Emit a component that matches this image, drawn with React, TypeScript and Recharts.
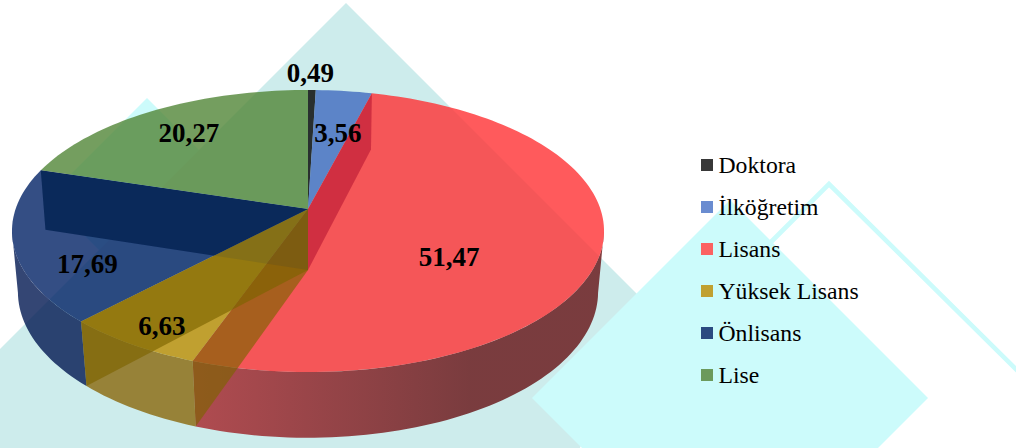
import React from "react";
import { PieChart, Pie, Legend } from "recharts";

const categories = ["Doktora", "İlköğretim", "Lisans", "Yüksek Lisans", "Önlisans", "Lise"];
const shares = [0.49, 3.56, 51.47, 6.63, 17.69, 20.27];
const fills = ["#383838", "#6a8cd0", "#fb6161", "#c0a030", "#2a4a80", "#6c9a5c"];
const faceFills = ["#000000", "#406abf", "#ff3133", "#bd8d01", "#012265", "#518637"];
const wallFills = ["#000000", "#2a4a90", "url(#redWall)", "#89680b", "#011851", "#3a6228"];
const rows = categories.map((name, i) => ({ name, value: shares[i], fill: fills[i] }));

// Perspective of the tilted disc: rim of the top and of the bottom face.
const TOP = { k: 0.156, a: 137.6, b: 292.4, dy: 0 };
const BOTTOM = { k: 0.15, a: 142.6, b: 286.8, dy: 61 };
const SIL_A = 99;
const SIL_B = 261;
const ALPHA = 0.8;

const FONT = "'Liberation Serif', 'Times New Roman', serif";

const pt = (cx: number, cy: number, deg: number, p: typeof TOP, r = 1) => {
  const t = (deg * Math.PI) / 180;
  const u = r * Math.sin(t);
  const v = r * Math.cos(t);
  const w = 1 + p.k * v;
  return [cx + (p.b * u) / w, cy + p.dy - (p.a * v) / w];
};
const toClock = (a: number) => 90 - a;
const arc = (cx: number, cy: number, a: number, b: number, p: typeof TOP) => {
  const out: number[][] = [];
  const n = Math.max(1, Math.ceil(Math.abs(b - a) / 1.5));
  for (let i = 0; i <= n; i++) out.push(pt(cx, cy, a + ((b - a) * i) / n, p));
  return out;
};
const d = (pts: number[][]) =>
  "M" + pts.map((q) => q[0].toFixed(2) + "," + q[1].toFixed(2)).join("L") + "Z";

const radialWall = (cx: number, cy: number, deg: number) =>
  d([[cx, cy], pt(cx, cy, deg, TOP), pt(cx, cy, deg, BOTTOM), [cx, cy + BOTTOM.dy]]);

const OuterWall = (props: any) => {
  const { cx, cy, startAngle, endAngle, name } = props;
  const a = Math.max(toClock(startAngle), SIL_A);
  const b = Math.min(toClock(endAngle), SIL_B);
  if (b <= a) return <g />;
  const i = categories.indexOf(name);
  const pts = [...arc(cx, cy, a, b, TOP), ...arc(cx, cy, b, a, BOTTOM)];
  return <path d={d(pts)} fill={wallFills[i]} fillOpacity={ALPHA} />;
};

const TopFace = (props: any) => {
  const { cx, cy, startAngle, endAngle, name } = props;
  const pts = [[cx, cy], ...arc(cx, cy, toClock(startAngle), toClock(endAngle), TOP)];
  return <path d={d(pts)} fill={faceFills[categories.indexOf(name)]} fillOpacity={ALPHA} />;
};

const InnerWalls = (props: any) => {
  const { cx, cy, startAngle, endAngle, name } = props;
  const a = toClock(startAngle);
  const b = toClock(endAngle);
  if (name === "Lisans") {
    return <path d={radialWall(cx, cy, a)} fill="#c02038" fillOpacity={0.7} />;
  }
  if (name === "Yüksek Lisans") {
    return (
      <g>
        <path d={radialWall(cx, cy, a)} fill="#7d6400" fillOpacity={0.65} />
        <path d={radialWall(cx, cy, b)} fill="#7d6400" fillOpacity={0.65} />
      </g>
    );
  }
  if (name === "Önlisans") {
    const face = [[cx, cy], ...arc(cx, cy, a, b, TOP)];
    return (
      <g>
        <clipPath id="navyFace">
          <path d={d(face)} />
        </clipPath>
        <path d={radialWall(cx, cy, b)} fill="#0a2858" fillOpacity={0.95} clipPath="url(#navyFace)" />
        <path d={radialWall(cx, cy, b)} fill="#0a2858" fillOpacity={0.1} />
      </g>
    );
  }
  return <g />;
};

// radial position of each value label on the disc, then a nudge
const labelSpots = [
  { r: 1.15, dx: -2, dy: -2 },
  { r: 0.6, dx: 7, dy: -1 },
  { r: 0.5, dx: -2, dy: 27 },
  { r: 0.8, dx: -9, dy: 12 },
  { r: 0.75, dx: -2, dy: 28 },
  { r: 0.75, dx: 0, dy: 0 },
];

const ValueLabel = (props: any) => {
  const { cx, cy, midAngle, index } = props;
  const s = labelSpots[index];
  const q = pt(cx, cy, toClock(midAngle), TOP, s.r);
  return (
    <text
      x={q[0] + s.dx}
      y={q[1] + s.dy}
      textAnchor="middle"
      dominantBaseline="central"
      fontFamily={FONT}
      fontWeight="bold"
      fontSize={27}
      fill="#000"
    >
      {shares[index].toFixed(2).replace(".", ",")}
    </text>
  );
};

const LegendList = () => (
  <div style={{ fontFamily: FONT, fontSize: 23.7, color: "#000" }}>
    {rows.map((e) => (
      <div key={e.name} style={{ height: 42, display: "flex", alignItems: "center" }}>
        <span style={{ width: 12, height: 12, background: e.fill, marginRight: 5.5, flex: "none" }} />
        <span style={{ lineHeight: "42px", whiteSpace: "nowrap" }}>{e.name}</span>
      </div>
    ))}
  </div>
);

const pieBase = {
  data: rows,
  dataKey: "value",
  nameKey: "name",
  cx: 308,
  cy: 209,
  outerRadius: 296,
  startAngle: 90,
  endAngle: -270,
  isAnimationActive: false,
  stroke: "none",
};

export default function App() {
  return (
    <div style={{ position: "absolute", left: 0, top: 0, width: 1016, height: 448, overflow: "hidden", background: "#fff" }}>
      <svg width={1016} height={448} style={{ position: "absolute", left: 0, top: 0 }}>
        <defs>
          <linearGradient id="redWall" gradientUnits="userSpaceOnUse" x1="196" y1="0" x2="470" y2="0">
            <stop offset="0" stopColor="#a82329" />
            <stop offset="1" stopColor="#651013" />
          </linearGradient>
        </defs>
        <polygon points="147,98 247,198 147,298 47,198" fill="#ccfbfb" />
        <polygon points="346,3 640,297 580,448 0,448 0,349" fill="#cdecec" />
        <polygon points="730,200 928,398 730,596 532,398" fill="#ccfbfb" />
        <polyline points="767,246 829,184 1030,383" fill="none" stroke="#ccfbfb" strokeWidth={4.6} />
      </svg>
      <div style={{ position: "absolute", left: 0, top: 0 }}>
        <PieChart width={1016} height={448} margin={{ top: 0, right: 0, bottom: 0, left: 0 }}>
          <Pie {...pieBase} shape={OuterWall} inactiveShape={OuterWall} />
          <Pie {...pieBase} legendType="none" shape={TopFace} inactiveShape={TopFace} />
          <Pie
            {...pieBase}
            legendType="none"
            shape={InnerWalls}
            inactiveShape={InnerWalls}
            label={ValueLabel}
            labelLine={false}
          />
          <Legend
            content={LegendList}
            layout="vertical"
            wrapperStyle={{ position: "absolute", left: 701, top: 144, width: 220, height: 252 }}
          />
        </PieChart>
      </div>
    </div>
  );
}
